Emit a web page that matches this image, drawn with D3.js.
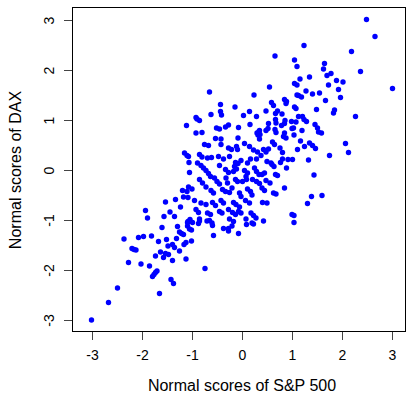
<!DOCTYPE html>
<html>
<head>
<meta charset="utf-8">
<script src="https://cdn.jsdelivr.net/npm/d3@7"></script>
<style>
  body { margin: 0; background: #fff; }
  svg { display: block; font-family: "Liberation Sans", Arial, sans-serif; }
</style>
</head>
<body>
<div id="chart"></div>
<script>
// normal scores, S&P 500 (x) vs DAX (y)
const sp500 = [
  0.66, 1.05, 1.1, -0.65, 0.55, 0.24, 1.05, 1.1, 1.1, -0.43, -0.14, -0.62, -0.43, -0.41, -0.92, 0.03, 0.15, 0.29, 0.48, 0.59,
  0.63, 0.71, 0.67, 0.8, 0.85, 0.88, 0.89, 1.05, 1.08,
  2.49, 2.66, 1.24, 2.19, 1.65, 1.63, 2.37, 1.78, 1.7, 1.16, 1.35, 1.89, 2.02, 1.73, 1.93, 3.01, 1.28, 1.41, 1.55, 1.13,
  1.19, 1.97, 1.67, 1.49, 1.85, 1.83, 2.27, 1.13, 1.21,
  1.24, 1.29, 1.08, 1.46, 1.51, 1.53, 1.59, 1.2, 1.04, 1.17, 1.35, 1.41, 1.47, 1.25, 1.11, 2.07, 2.13, 1.75, 1.33, 1.44,
  1.6, 1.39, 1.31, 1.04, 1.04,
  -0.74, -0.57, -0.07, -1.01, -1.12, -1.12, -0.37, -0.27, -0.27, -0.2, 0.09, 0.2, 0.23, 0.43, -0.59, -0.87, -0.85, -0.7,
  -1.09, -1.01, -1.05, -1.09,
  -3.01, -2.67, -2.49, -1.65, -1.42, -1.37, -2.27, -2.02, -1.85, -1.7, -1.73, -1.76, -1.79, -2.36, -2.2, -2.16, -2.12,
  -2.07, -1.97, -1.81, -1.67, -1.6, -1.51, -1.29, -1.25, -1.21, -1.17, -1.31, -1.08, -1.48, -1.39, -1.35, -1.25, -1.16,
  -1.63, -1.53, -1.47, -1.73, -1.57, -1.39,
  -1.11, -1.15, -1.1, -1.06, -1.05, -1.07, -1.19, -1.17, -1.08, -1.33, -1.53, -1.23, -1.44, -1.93, -1.89, -1.56, -1.35,
  -0.9, -0.85, 0.67, 0.86, -0.51, -0.45, -0.33, -0.27, -0.07, 0.16, 0.53, 0.68, 0.79, 0.85, 0.99, 1.0, -0.92, -0.8,
  -0.53, -0.42, -0.08, 0.3, 0.34, 0.35, 0.32, 0.36, 0.35, 0.48, 0.52, 0.66, 0.68, 0.85, 0.83, 0.88, 1.03, -0.75, -0.67,
  -0.42, -0.27, -0.21, -0.11, -0.09, 0.05, 0.15, 0.23, 0.31, 0.43, 0.48, 0.53, 0.61, 0.65, 0.76, 0.81, 0.92, 1.01,
  -1.07, -0.85, -0.8, -0.69, -0.61, -0.47, -0.37, -0.25, -0.13, -0.08, -0.02, 0.11, 0.17, 0.29, 0.38, 0.5, 0.58, 0.77,
  0.81, -0.89, -0.82, -0.77, -0.72, -0.67, -0.63, -0.45, -0.33, -0.27, -0.15, -0.11, -0.17, 0.05, 0.11, 0.08, 0.25,
  0.29, 0.34, 0.4, 0.45, 0.6, 0.64, 0.89, -0.85, -0.79, -0.55, -0.5, -0.45, -0.32, -0.29, -0.13, -0.09, 0.01, 0.09,
  0.21, 0.29, 0.35, 0.48, 0.56, 0.67, 0.71, -1.0, -1.1, -0.72, -0.62, -0.57, -0.39, -0.33, -0.2, -0.25, -0.05, -0.02,
  0.11, 0.17, 0.2, 0.4, 0.45, 0.63, 0.68, 0.85, -0.95, -0.82, -0.72, -0.59, -0.53, -0.42, -0.37, -0.17, -0.12, -0.05,
  0.07, 0.15, 0.41, 0.5, -0.92, -0.87, -0.69, -0.63, -0.45, -0.4, -0.27, -0.19, -0.13, -0.07, -0.02, 0.18, 0.23, 0.28,
  1.0, -1.04, -0.99, -0.85, -0.65, -0.6, -0.25, -0.17, 0.08
];
const dax = [
  2.28, 2.2, 2.07, 1.56, 1.66, 1.5, 1.73, 1.7, 1.5, 1.31, 1.26, 1.11, 1.17, 1.1, 1.05, 1.09, 1.17, 1.07, 1.18, 1.35,
  1.29, 1.18, 1.13, 1.12, 1.41, 1.33, 1.37, 1.26, 1.23,
  3.01, 2.67, 2.49, 2.37, 2.13, 2.02, 1.97, 1.93, 1.89, 1.82, 1.86, 1.79, 1.76, 1.7, 1.61, 1.63, 1.58, 1.52, 1.54, 1.49,
  1.46, 1.45, 1.39, 1.21, 1.2, 1.14, 1.07, 1.07, 1.07,
  1.01, 0.97, 0.96, 0.91, 0.84, 0.76, 0.74, 0.79, 0.7, 0.58, 0.54, 0.49, 0.43, 0.47, 0.41, 0.53, 0.35, 0.29, 0.2, -0.1,
  -0.51, -0.53, -0.67, -0.91, -1.05,
  -1.97, -1.31, -1.27, -1.42, -1.45, -1.78, -1.17, -1.17, -1.22, -1.12, -1.09, -1.06, -1.08, -1.02, -1.11, -1.07, -1.02,
  -1.02, -1.12, -1.2, -1.18, -1.05,
  -3.0, -2.65, -2.36, -2.47, -2.19, -2.27, -1.85, -1.88, -1.92, -2.02, -2.05, -2.09, -2.13, -1.38, -1.57, -1.59, -1.6,
  -1.35, -1.33, -1.32, -1.43, -1.15, -1.39, -1.13, -1.24, -1.27, -1.29, -1.37, -1.03, -1.52, -1.49, -1.55, -1.62, -1.49,
  -1.64, -1.67, -1.69, -1.72, -1.75, -1.81,
  0.89, 0.34, 0.29, 0.15, -0.05, -0.34, -0.41, -0.54, -0.55, -0.59, -0.64, -0.74, -0.84, -0.81, -0.96, -0.93, -0.93,
  1.02, 0.99, 1.01, 0.99, 0.84, 0.82, 0.86, 0.9, 0.85, 0.91, 0.93, 0.94, 0.89, 0.93, 0.97, 0.83, 0.74, 0.75,
  0.63, 0.62, 0.64, 0.74, 0.77, 0.79, 0.7, 0.71, 0.62, 0.79, 0.83, 0.81, 0.75, 0.74, 0.67, 0.64, 0.84, 0.51, 0.49,
  0.51, 0.44, 0.41, 0.47, 0.41, 0.53, 0.47, 0.4, 0.36, 0.41, 0.36, 0.42, 0.56, 0.51, 0.44, 0.35, 0.21, 0.21,
  0.27, 0.31, 0.26, 0.24, 0.25, 0.27, 0.22, 0.27, 0.15, 0.13, 0.19, 0.14, 0.22, 0.22, 0.29, 0.17, 0.14, 0.15,
  0.22, 0.14, 0.09, 0.04, -0.01, -0.07, -0.13, 0.09, 0.01, -0.05, 0.07, 0.02, -0.03, -0.01, -0.06, -0.13, 0.04,
  -0.03, -0.09, -0.09, -0.06, 0.11, 0.07, 0.04, -0.19, -0.26, -0.16, -0.23, -0.28, -0.16, -0.26, -0.19, -0.23, -0.23, -0.19,
  -0.19, -0.23, -0.27, -0.21, -0.26, -0.09, -0.11, -0.38, -0.43, -0.34, -0.41, -0.46, -0.39, -0.43, -0.36, -0.45, -0.46, -0.53,
  -0.38, -0.43, -0.5, -0.36, -0.41, -0.46, -0.48, -0.36, -0.61, -0.66, -0.69, -0.65, -0.71, -0.61, -0.66, -0.65, -0.69, -0.74,
  -0.61, -0.66, -0.65, -0.66, -0.79, -0.85, -0.86, -0.89, -0.83, -0.86, -0.79, -0.85, -0.89, -0.83, -0.86, -0.86, -0.91, -0.96,
  -0.89, -0.99, -1.05, -0.98, -1.01, -1.06, -0.98, -1.03, -0.98
];
const ticks = [-3, -2, -1, 0, 1, 2, 3];
const xLabel = 'Normal scores of S&P 500';
const yLabel = 'Normal scores of DAX';

const W = 410, H = 395;
const margin = { top: 7, right: 4, bottom: 63, left: 72 },
  width = W - margin.left - margin.right,
  height = H - margin.top - margin.bottom;

const x = d3.scaleLinear().domain([-3.4, 3.28]).range([0, width]);
const y = d3.scaleLinear().domain([-3.24, 3.26]).range([height, 0]);

const svg = d3.select('#chart').append('svg')
  .attr('width', W)
  .attr('height', H);

const g = svg.append('g')
  .attr('transform', 'translate(' + margin.left + ',' + margin.top + ')');

// points
g.selectAll('circle')
  .data(d3.zip(sp500, dax))
  .enter().append('circle')
  .attr('cx', d => x(d[0]))
  .attr('cy', d => y(d[1]))
  .attr('r', 2.7)
  .attr('fill', '#0000ff');

// axes, R style: ticks only, box drawn separately
const xAxis = g.append('g')
  .attr('transform', 'translate(0,' + height + ')')
  .call(d3.axisBottom(x).tickValues(ticks).tickSize(8).tickPadding(10).tickFormat(d => String(d)));
const yAxis = g.append('g')
  .call(d3.axisLeft(y).tickValues(ticks).tickSize(8).tickPadding(8).tickFormat(d => String(d)));

[xAxis, yAxis].forEach(a => {
  a.select('.domain').remove();
  a.selectAll('.tick line').attr('stroke', '#444');
  a.selectAll('.tick text').attr('font-size', 14).attr('fill', '#000')
    .attr('font-family', '"Liberation Sans", Arial, sans-serif');
});
// y tick labels run parallel to the axis
yAxis.selectAll('.tick text')
  .attr('transform', 'rotate(-90)')
  .attr('x', 0).attr('y', -23)
  .attr('dy', '0.35em')
  .attr('text-anchor', 'middle');

g.append('rect')
  .attr('x', 0.5).attr('y', 0.5)
  .attr('width', width - 1).attr('height', height - 1)
  .attr('fill', 'none')
  .attr('stroke', '#000');

svg.append('text')
  .attr('x', margin.left + x(0))
  .attr('y', 391)
  .attr('text-anchor', 'middle')
  .attr('font-size', 16)
  .text(xLabel);

svg.append('text')
  .attr('transform', 'translate(15,' + (margin.top + y(0)) + ') rotate(-90)')
  .attr('text-anchor', 'middle')
  .attr('dy', '0.35em')
  .attr('font-size', 16)
  .text(yLabel);
</script>
</body>
</html>
